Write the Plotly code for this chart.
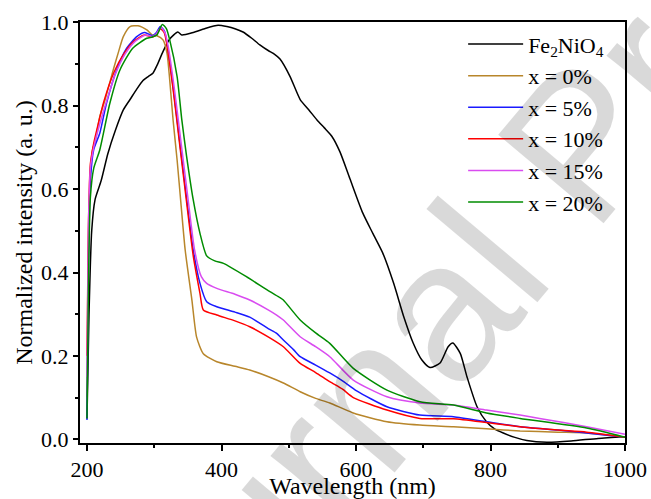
import plotly.graph_objects as go

# ---------------- data ----------------
fe_x = [200, 203, 207, 212, 221, 231, 242, 254, 264, 274, 283, 291, 298, 305, 313, 323, 335, 341,
        358, 375, 395, 408, 420, 432, 445, 457, 470, 477, 487, 502, 517, 530, 542, 553, 564, 576,
        591, 610, 625, 640, 656, 671, 685, 698, 710, 725, 737, 744, 755, 765, 780, 794, 806, 819,
        835, 854, 884, 920, 960, 1000]
fe_y = [0.05, 0.30, 0.50, 0.575, 0.62, 0.685, 0.74, 0.79, 0.815, 0.84, 0.86, 0.87, 0.878, 0.90,
        0.93, 0.96, 0.977, 0.97, 0.976, 0.985, 0.993, 0.99, 0.985, 0.977, 0.962, 0.946, 0.932,
        0.926, 0.912, 0.87, 0.815, 0.79, 0.766, 0.747, 0.727, 0.69, 0.625, 0.543, 0.494, 0.446,
        0.374, 0.294, 0.231, 0.19, 0.172, 0.183, 0.222, 0.231, 0.206, 0.15, 0.078, 0.042, 0.025,
        0.015, 0.005, -0.003, -0.007, -0.004, 0.002, 0.006]

x0_x = [200, 202, 205, 209, 212, 219, 227, 239, 247, 254, 264, 276, 289, 297, 304, 313, 319, 323,
        328, 334, 340, 346, 356, 363, 373, 393, 420, 442, 470, 492, 517, 540, 561, 596, 646, 695,
        745, 794, 844, 900, 943, 1000]
x0_y = [0.10, 0.45, 0.64, 0.70, 0.712, 0.774, 0.815, 0.886, 0.93, 0.966, 0.99, 0.992, 0.982, 0.97,
        0.968, 0.958, 0.926, 0.862, 0.766, 0.67, 0.56, 0.454, 0.334, 0.245, 0.205, 0.186, 0.175,
        0.166, 0.15, 0.135, 0.114, 0.098, 0.087, 0.063, 0.042, 0.034, 0.03, 0.025, 0.02, 0.017,
        0.015, 0.005]

x5_x = [200, 202, 205, 210, 219, 229, 244, 259, 274, 286, 297, 303, 309, 315, 319, 328, 338, 348,
        358, 368, 378, 393, 420, 442, 470, 482, 492, 507, 517, 540, 561, 580, 601, 646, 695, 745,
        794, 844, 900, 943, 1000]
x5_y = [0.046, 0.40, 0.62, 0.695, 0.734, 0.806, 0.886, 0.938, 0.966, 0.976, 0.968, 0.975, 0.99,
        0.98, 0.95, 0.846, 0.712, 0.58, 0.454, 0.374, 0.33, 0.318, 0.305, 0.293, 0.265, 0.254,
        0.238, 0.215, 0.198, 0.178, 0.159, 0.14, 0.116, 0.078, 0.058, 0.054, 0.042, 0.03, 0.022,
        0.015, 0.005]

x10_x = [200, 202, 205, 210, 215, 225, 240, 255, 270, 285, 297, 303, 309, 315, 319, 328, 338, 348,
         358, 368, 373, 393, 420, 442, 470, 492, 517, 540, 561, 580, 596, 646, 695, 745, 794, 844,
         900, 943, 1000]
x10_y = [0.20, 0.50, 0.66, 0.71, 0.745, 0.81, 0.88, 0.925, 0.955, 0.97, 0.965, 0.97, 0.985, 0.975,
         0.945, 0.84, 0.705, 0.57, 0.44, 0.35, 0.31, 0.298, 0.284, 0.27, 0.245, 0.222, 0.182, 0.16,
         0.138, 0.12, 0.10, 0.07, 0.05, 0.049, 0.04, 0.03, 0.022, 0.017, 0.005]

x15_x = [200, 202, 205, 210, 217, 227, 242, 257, 272, 287, 297, 303, 310, 316, 321, 330, 340, 350,
         360, 370, 378, 393, 420, 442, 470, 482, 492, 517, 540, 561, 596, 646, 695, 745, 794, 844,
         873, 943, 1000]
x15_y = [0.15, 0.50, 0.65, 0.70, 0.745, 0.80, 0.875, 0.925, 0.955, 0.97, 0.966, 0.972, 0.988, 0.975,
         0.94, 0.84, 0.71, 0.58, 0.454, 0.39, 0.374, 0.362, 0.348, 0.334, 0.31, 0.298, 0.286, 0.246,
         0.222, 0.198, 0.142, 0.102, 0.087, 0.082, 0.07, 0.058, 0.05, 0.03, 0.012]

x20_x = [200, 202, 205, 210, 219, 234, 249, 268, 289, 297, 304, 312, 318, 323, 334, 341, 348, 358,
         368, 378, 390, 403, 437, 472, 487, 492, 517, 540, 561, 596, 646, 695, 745, 794, 844, 943,
         1000]
x20_y = [0.05, 0.35, 0.58, 0.65, 0.694, 0.806, 0.886, 0.938, 0.962, 0.965, 0.97, 0.995, 0.985, 0.958,
         0.87, 0.766, 0.68, 0.574, 0.494, 0.44, 0.428, 0.422, 0.39, 0.354, 0.34, 0.334, 0.286, 0.255,
         0.23, 0.17, 0.118, 0.09, 0.082, 0.063, 0.05, 0.027, 0.005]

series_names = ["Fe<sub>2</sub>NiO<sub>4</sub>", "x = 0%", "x = 5%", "x = 10%", "x = 15%", "x = 20%"]
series_colors = ["#000000", "#B8862B", "#1A1AFF", "#FF0000", "#D94CF0", "#008C00"]
series_x = [fe_x, x0_x, x5_x, x10_x, x15_x, x20_x]
series_y = [fe_y, x0_y, x5_y, x10_y, x15_y, x20_y]

x_ticks = [200, 400, 600, 800, 1000]
y_ticks = [0.0, 0.2, 0.4, 0.6, 0.8, 1.0]

# ---------------- figure ----------------
FONT = "Liberation Serif"
fig = go.Figure()
for name, col, xs, ys in zip(series_names, series_colors, series_x, series_y):
    fig.add_trace(go.Scatter(x=xs, y=ys, mode="lines", name=name,
                             line=dict(color=col, width=1.5, shape="spline", smoothing=0.6)))

fig.update_layout(
    width=651, height=499,
    margin=dict(l=80, r=26, t=22, b=56, autoexpand=False),
    paper_bgcolor="white", plot_bgcolor="white",
    font=dict(family=FONT, size=22, color="black"),
    showlegend=True,
    legend=dict(x=0.703, y=0.997, xanchor="left", yanchor="top", itemwidth=55,
                bgcolor="rgba(0,0,0,0)", font=dict(family=FONT, size=22),
                tracegroupgap=0),
    annotations=[dict(text="Journal Pre-proof", xref="paper", yref="paper",
                      x=0.915, y=0.71, xanchor="center", yanchor="middle",
                      showarrow=False, textangle=-50,
                      font=dict(family="Liberation Sans", size=200, color="rgba(0,0,0,0.15)"))],
)

fig.update_xaxes(
    range=[189.6, 1000], tickvals=x_ticks, ticktext=[str(v) for v in x_ticks],
    showline=True, linewidth=2, linecolor="black", mirror=True, automargin=False,
    ticks="outside", ticklen=6, tickwidth=1.5, tickcolor="black",
    minor=dict(tickvals=[300, 500, 700, 900], ticks="outside", ticklen=3, tickwidth=1.5,
               tickcolor="black", showgrid=False),
    showgrid=False, zeroline=False,
    title=dict(text="Wavelength (nm)", font=dict(family=FONT, size=24), standoff=0),
)
fig.update_yaxes(
    range=[-0.009, 1.001], tickvals=y_ticks, ticktext=[f"{v:.1f}" for v in y_ticks],
    showline=True, linewidth=2, linecolor="black", mirror=True, automargin=False,
    ticks="outside", ticklen=5, tickwidth=1.5, tickcolor="black",
    minor=dict(tickvals=[0.1, 0.3, 0.5, 0.7, 0.9], ticks="outside", ticklen=3, tickwidth=1.5,
               tickcolor="black", showgrid=False),
    showgrid=False, zeroline=False,
    title=dict(text="Normalized intensity (a. u.)", font=dict(family=FONT, size=24), standoff=2),
)

fig.write_html("out.html", config={"displayModeBar": False},
               post_script="document.body.style.margin='0';")
